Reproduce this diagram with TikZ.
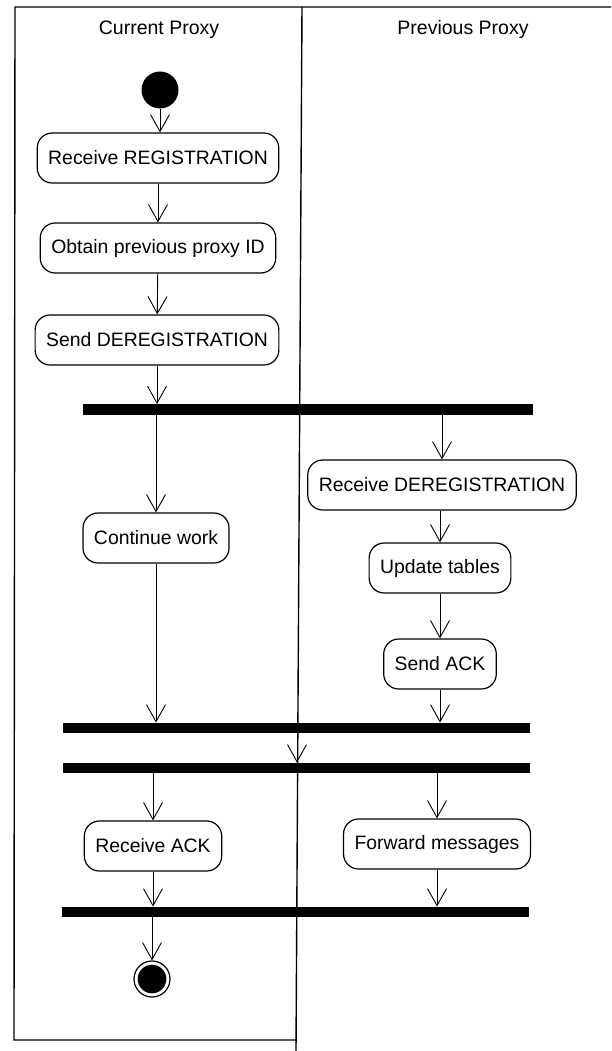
\documentclass[tikz,border=0pt]{standalone}
\usepackage{fontspec}
\setmainfont{Liberation Sans}
\usetikzlibrary{arrows.meta}

\tikzset{
  lbl/.style={font=\fontsize{19.5}{23}\selectfont, inner sep=0pt},
  activity/.style={draw, line width=1.2pt, rounded corners=15pt,
    minimum height=50pt, inner xsep=11pt, inner ysep=0pt,
    font=\fontsize{19.4}{23}\selectfont},
  syncbar/.style={fill=black, draw=none, inner sep=0pt, minimum height=10.5pt},
  flow/.style={line width=0.9pt, -{Straight Barb[length=17pt,width=19pt,line width=0.9pt]}},
  frame/.style={line width=1.4pt},
  startnode/.style={circle, fill=black, minimum size=37pt, inner sep=0pt},
  endnode/.style={circle, draw, line width=1.2pt, minimum size=36pt, inner sep=0pt,
    path picture={\fill[black] (path picture bounding box.center) circle (14.3pt);}},
}

\begin{document}
\begin{tikzpicture}[x=1pt, y=-1pt]
  \useasboundingbox (0,0) rectangle (611,1051);

  % swimlane frame
  \draw[frame] (611,7) -- (15,7) -- (14,1040) -- (296,1040);
  \draw[frame] (302,7) -- (296,1051);

  % lane titles
  \node[lbl, anchor=base] (lanecur) at (159,35) {Current Proxy};
  \node[lbl, anchor=base] (laneprev) at (463,35) {Previous Proxy};

  % current proxy activities
  \node[startnode] (start) at (160,90) {};
  \node[activity] (rr) at (158,158) {Receive REGISTRATION};
  \node[activity] (op) at (158,248) {Obtain previous proxy ID};
  \node[activity] (sd) at (157,340) {Send DEREGISTRATION};
  \node[activity] (cw) at (156,538) {Continue work};
  \node[activity] (ra) at (153,846) {Receive ACK};
  \node[endnode] (stop) at (152,979) {};

  % previous proxy activities
  \node[activity] (rd) at (442,485) {Receive DEREGISTRATION};
  \node[activity] (ut) at (440,568) {Update tables};
  \node[activity] (sa) at (440,664) {Send ACK};
  \node[activity] (fm) at (437,844) {Forward messages};

  % synchronisation bars
  \node[syncbar, minimum width=450pt] (b1) at (308,409.5) {};
  \node[syncbar, minimum width=467pt] (b2) at (296.5,728) {};
  \node[syncbar, minimum width=467pt] (b3) at (296.5,768) {};
  \node[syncbar, minimum width=467pt] (b4) at (295.5,912) {};
  \coordinate (mid2) at (297,728);
  \coordinate (mid3) at (297,768);

  % transitions
  \draw[flow] (start) -- (start |- rr.north);
  \draw[flow] (rr) -- (op);
  \draw[flow] (op) -- (sd);
  \draw[flow] (sd) -- (sd |- b1.north);
  \draw[flow] (b1.south -| cw) -- (cw);
  \draw[flow] (b1.south -| rd) -- (rd);
  \draw[flow] (rd.south -| ut) -- (ut);
  \draw[flow] (ut) -- (sa);
  \draw[flow] (cw) -- (cw |- b2.north);
  \draw[flow] (sa) -- (sa |- b2.north);
  \draw[flow] (mid2 |- b2.south) -- (mid3 |- b3.north);
  \draw[flow] (b3.south -| ra) -- (ra);
  \draw[flow] (b3.south -| fm) -- (fm);
  \draw[flow] (ra) -- (ra |- b4.north);
  \draw[flow] (fm) -- (fm |- b4.north);
  \draw[flow] (b4.south -| stop) -- (stop);
\end{tikzpicture}
\end{document}
